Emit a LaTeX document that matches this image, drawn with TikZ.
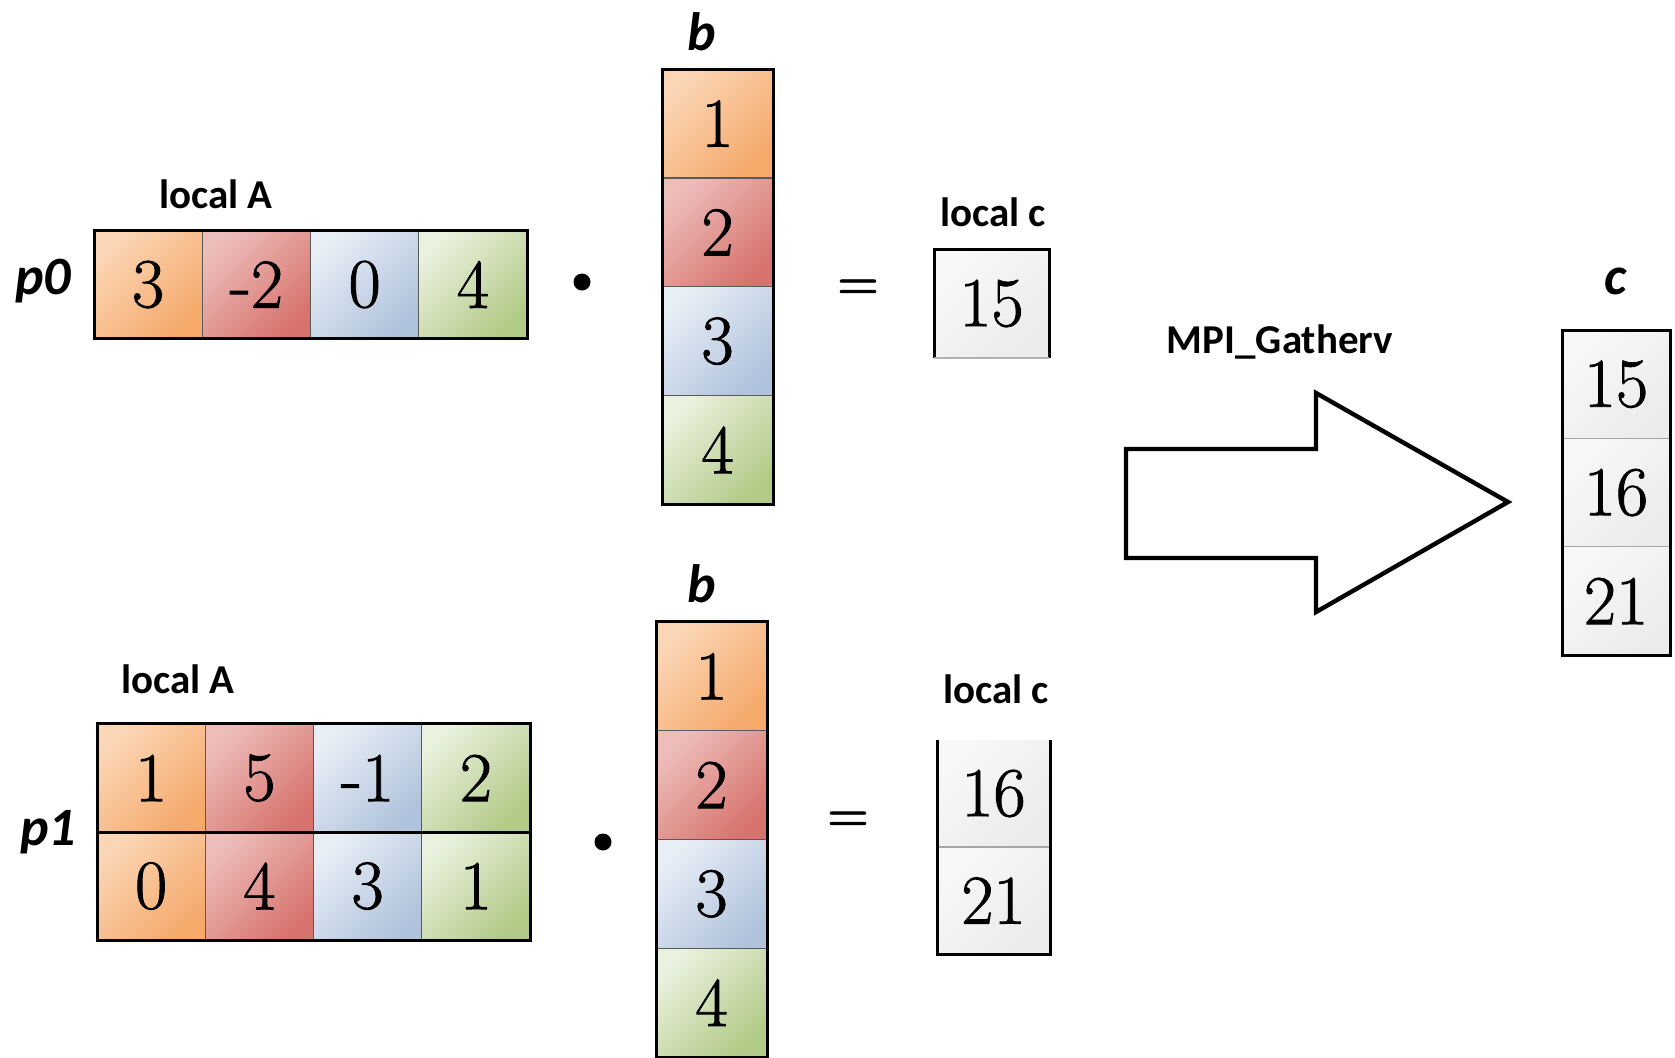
\documentclass[tikz,border=0pt]{standalone}
\usepackage{fontspec}
\newfontfamily\lblfont{Carlito}
\newfontfamily\numfont[FakeBold=1.2]{Latin Modern Roman}
\definecolor{orL}{HTML}{FBD6B6}
\definecolor{orD}{HTML}{F5A96B}
\definecolor{rdL}{HTML}{EDBDBA}
\definecolor{rdD}{HTML}{D7736D}
\definecolor{blL}{HTML}{E8EEF6}
\definecolor{blD}{HTML}{B0C3DC}
\definecolor{grL}{HTML}{EAF1DE}
\definecolor{grD}{HTML}{B2CA87}
\definecolor{cgL}{HTML}{F8F8F8}
\definecolor{cgD}{HTML}{EBEBEB}
\definecolor{divider}{HTML}{5A5A5A}
\tikzset{
  cell/.style={rectangle, inner sep=0pt, outer sep=0pt, draw=divider, line width=0.6pt,
    font=\numfont\fontsize{35}{40}\selectfont},
  rowcell/.style={cell, minimum width=54.1pt, minimum height=54.4pt},
  colcell/.style={cell, minimum width=55.5pt, minimum height=54.4pt},
  rescell/.style={cell, minimum width=56pt, minimum height=54pt, draw=none},
  fillor/.style={top color=orL, bottom color=orD, shading angle=45},
  fillrd/.style={top color=rdL, bottom color=rdD, shading angle=45},
  fillbl/.style={top color=blL, bottom color=blD, shading angle=45},
  fillgr/.style={top color=grL, bottom color=grD, shading angle=45},
  fillcg/.style={top color=cgL, bottom color=cgD, shading angle=45},
  outer/.style={draw=black, line width=1.5pt},
  thin/.style={draw=divider, line width=0.6pt},
  lbl/.style={font=\lblfont\bfseries\fontsize{20.5}{24}\selectfont, inner sep=0pt},
  big/.style={font=\lblfont\bfseries\itshape\fontsize{27}{32}\selectfont, inner sep=0pt},
  op/.style={font=\numfont\bfseries\fontsize{24}{28}\selectfont, inner sep=0pt},
  mul/.style={circle, fill=black, minimum size=8.5pt, inner sep=0pt},
  bigarrow/.style={draw=black, line width=2.2pt, fill=white, line join=miter}
}
\begin{document}
\begin{tikzpicture}[x=0.5pt, y=-0.5pt]
\useasboundingbox (0,0) rectangle (1675,1057);

% ---- process p0 ----
\node[lbl] (lA0) at (216,194) {local A};
\node[big] (p0) at (43,281) {p0};
\node[rowcell, fillor] (a00) at (148.1,284.5) {3};
\node[rowcell, fillrd] (a01) at (256.4,284.5) {-2};
\node[rowcell, fillbl] (a02) at (364.6,284.5) {0};
\node[rowcell, fillgr] (a03) at (472.9,284.5) {4};
\draw[outer] (a00.north west) rectangle (a03.south east);

\node[mul] (dot0) at (582,282) {};

\node[big] (b0) at (702,32) {b};
\node[colcell, fillor] (b00) at (717.5,123.5) {1};
\node[colcell, fillrd] (b01) at (717.5,232.3) {2};
\node[colcell, fillbl] (b02) at (717.5,341.1) {3};
\node[colcell, fillgr] (b03) at (717.5,449.9) {4};
\draw[outer] (b00.north west) rectangle (b03.south east);

\node[op] (eq0) at (858,289) {=};

\node[lbl] (lc0) at (993,212) {local c};
\node[rescell, minimum width=57.5pt, minimum height=54.5pt, fillcg] (c0) at (991.5,303.5) {15};
\draw[outer] (c0.south west) -- (c0.north west) -- (c0.north east) -- (c0.south east);
\draw[thin, draw=gray!60] (c0.south west) -- (c0.south east);

% ---- process p1 ----
\node[lbl] (lA1) at (178,679) {local A};
\node[big] (p1) at (48,832) {p1};
\node[rowcell, fillor] (a10) at (151.1,778) {1};
\node[rowcell, fillrd] (a11) at (259.4,778) {5};
\node[rowcell, fillbl] (a12) at (367.6,778) {-1};
\node[rowcell, fillgr] (a13) at (475.9,778) {2};
\node[rowcell, fillor] (a20) at (151.1,886) {0};
\node[rowcell, fillrd] (a21) at (259.4,886) {4};
\node[rowcell, fillbl] (a22) at (367.6,886) {3};
\node[rowcell, fillgr] (a23) at (475.9,886) {1};
\draw[outer] (a10.north west) rectangle (a23.south east);
\draw[outer] (a10.south west) -- (a13.south east);

\node[mul] (dot1) at (603,842) {};

\node[big] (b1) at (702,584) {b};
\node[colcell, fillor] (b10) at (711.5,676.2) {1};
\node[colcell, fillrd] (b11) at (711.5,785) {2};
\node[colcell, fillbl] (b12) at (711.5,893.8) {3};
\node[colcell, fillgr] (b13) at (711.5,1002.6) {4};
\draw[outer] (b10.north west) rectangle (b13.south east);

\node[op] (eq1) at (848,821) {=};

\node[lbl] (lc1) at (996,689) {local c};
\node[rescell, minimum width=56.5pt, minimum height=53.5pt, fillcg] (c10) at (993.5,793.5) {16};
\node[rescell, minimum width=56.5pt, minimum height=53.5pt, fillcg] (c11) at (993.5,900.5) {21};
\draw[thin, draw=gray!70] (c10.south west) -- (c10.south east);
\draw[outer] (c10.north west) -- (c11.south west) -- (c11.south east) -- (c10.north east);

% ---- gather ----
\node[lbl] (mpi) at (1280,342) {MPI\_Gatherv};
\draw[bigarrow] (1126,449) -- (1316,449) -- (1316,393) -- (1508,502)
  -- (1316,612) -- (1316,558) -- (1126,558) -- cycle;

\node[big] (cl) at (1616,281) {c};
\node[rescell, minimum width=54pt, minimum height=54.2pt, fillcg] (g0) at (1616,384.2) {15};
\node[rescell, minimum width=54pt, minimum height=54.2pt, fillcg] (g1) at (1616,492.6) {16};
\node[rescell, minimum width=54pt, minimum height=54.2pt, fillcg] (g2) at (1616,601) {21};
\draw[thin, draw=gray!70] (g0.south west) -- (g0.south east);
\draw[thin, draw=gray!70] (g1.south west) -- (g1.south east);
\draw[outer] (g0.north west) rectangle (g2.south east);
\end{tikzpicture}
\end{document}
